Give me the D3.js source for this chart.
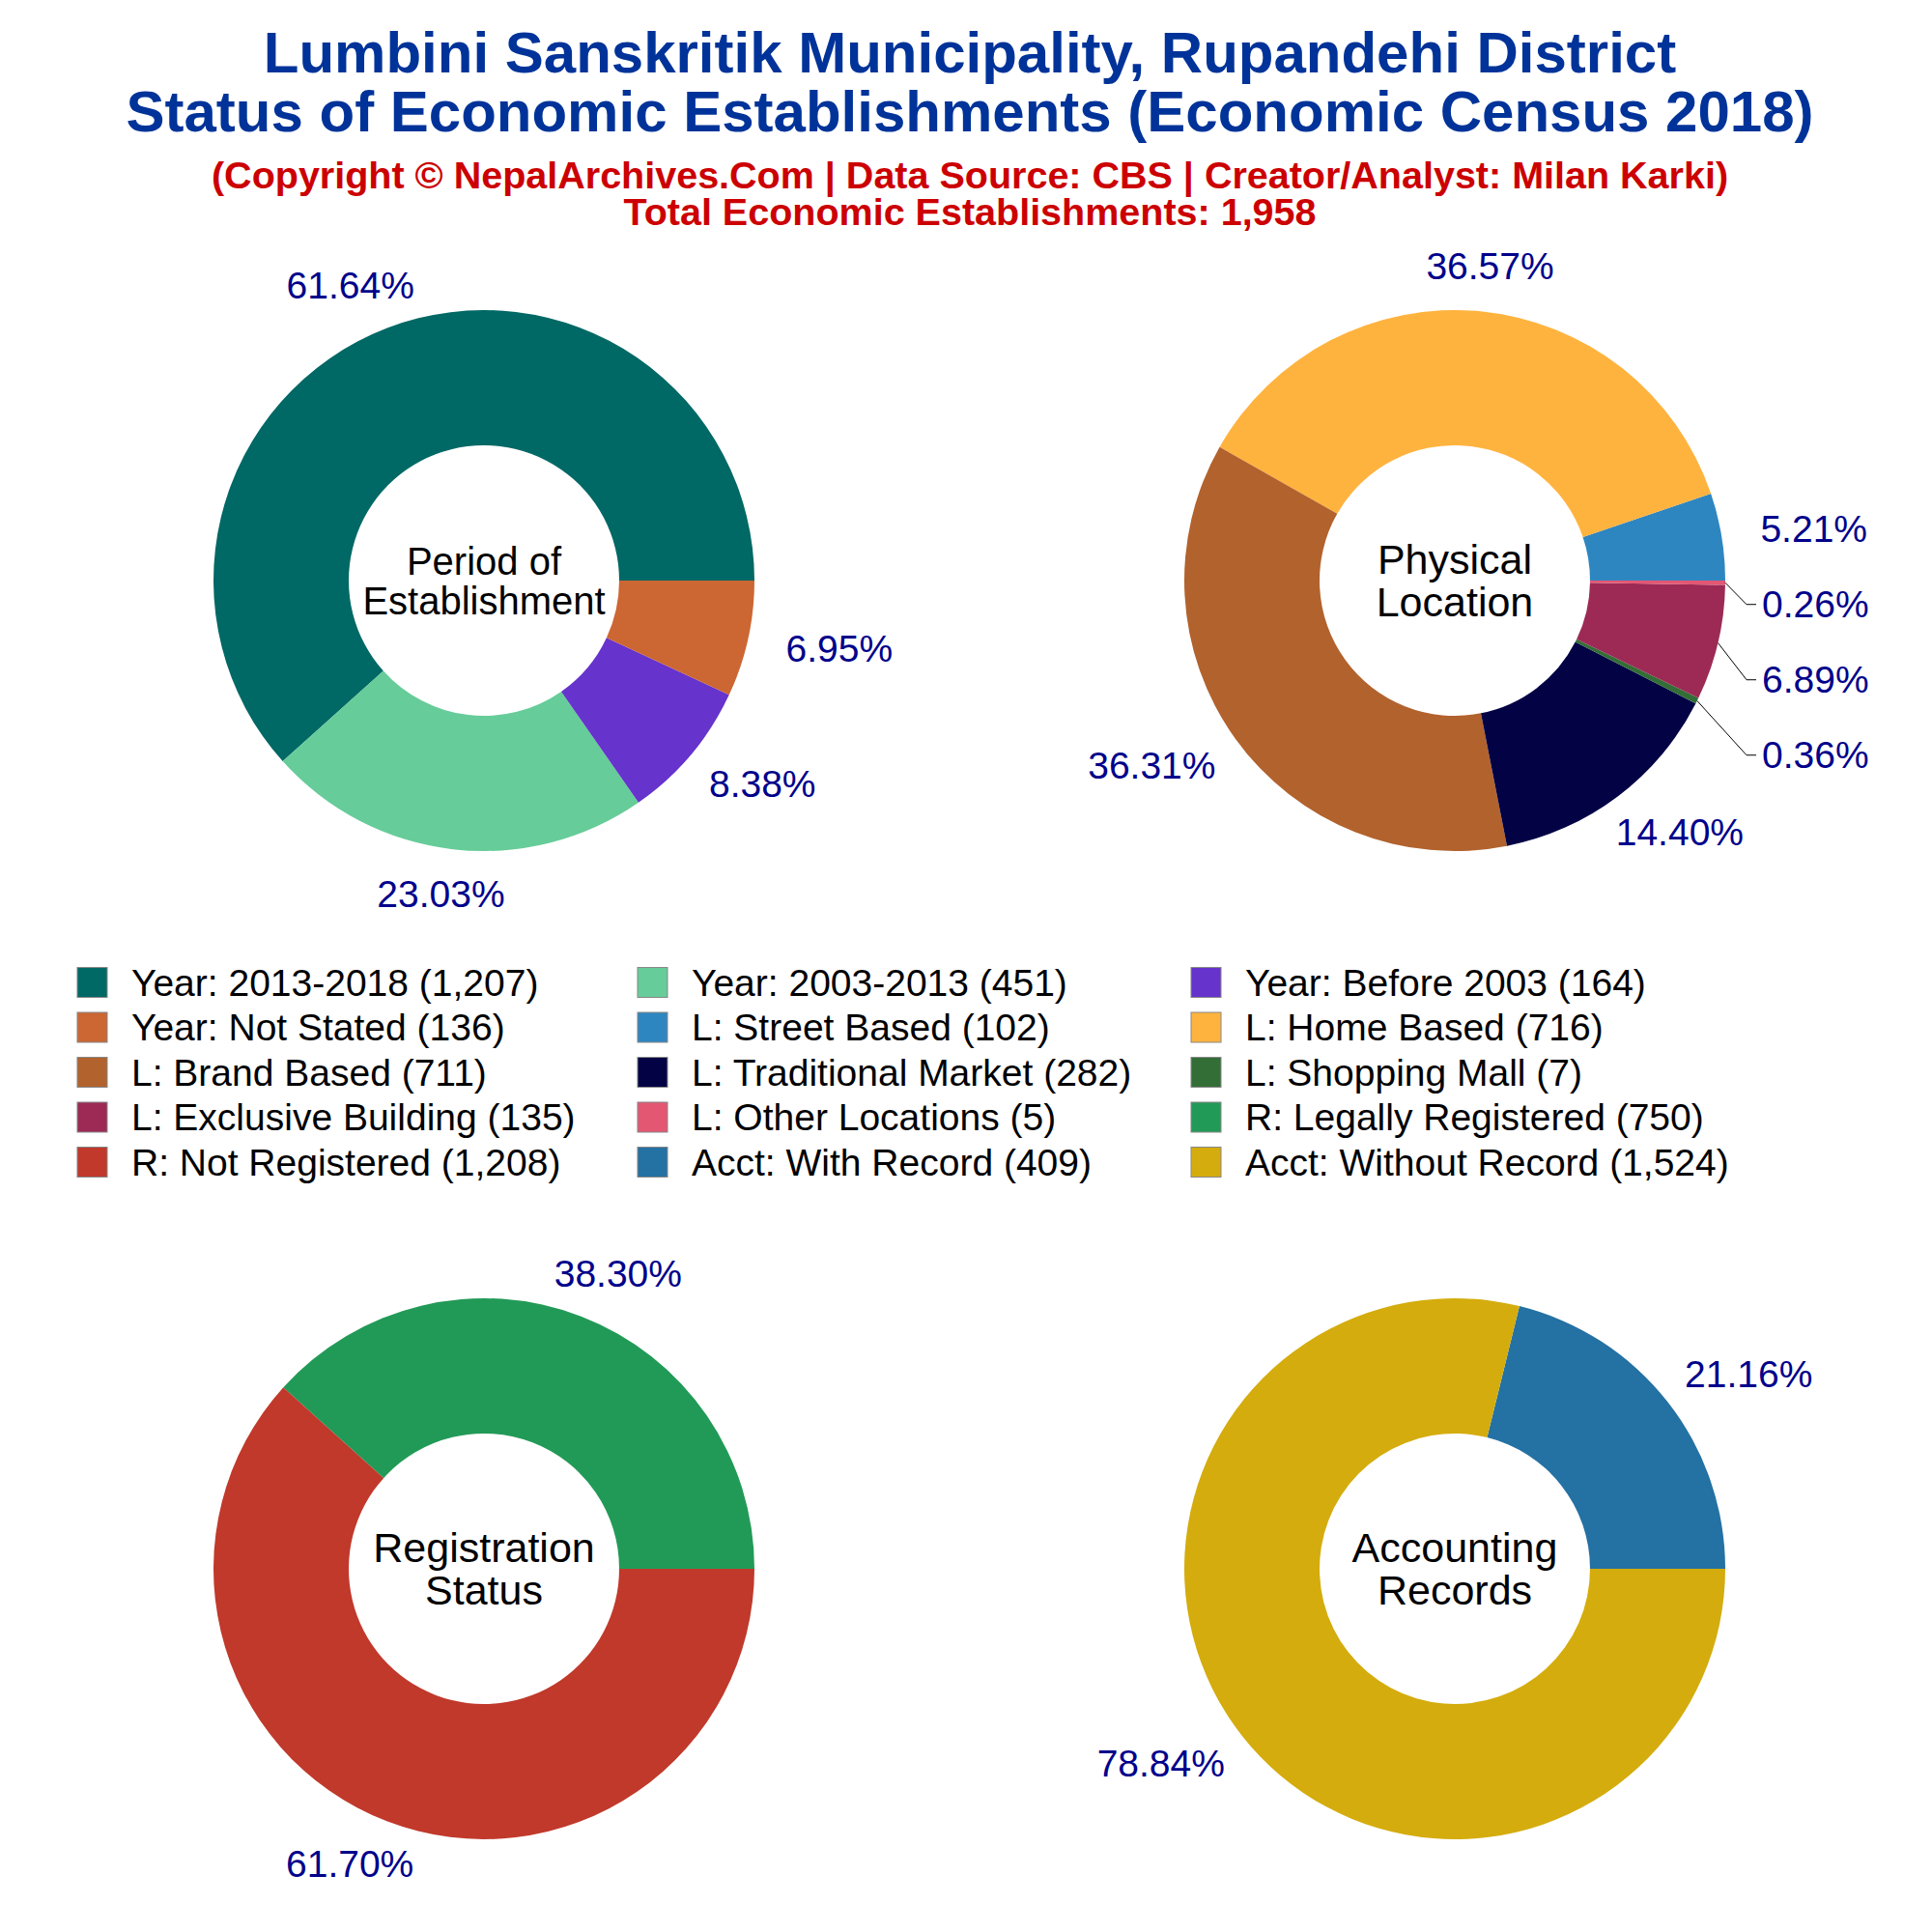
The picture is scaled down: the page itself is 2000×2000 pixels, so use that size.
<!DOCTYPE html>
<html lang="en">
<head>
<meta charset="UTF-8">
<title>Economic Establishments</title>
<style>
  body { margin: 0; background: #fff; }
  svg { font-family: "Liberation Sans", Arial, sans-serif; display: block; }
</style>
<script src="https://d3js.org/d3.v7.min.js"></script>
</head>
<body>
<div id="chart"></div>
<script>
// ---- data ----
const titleLines = ["Lumbini Sanskritik Municipality, Rupandehi District",
                    "Status of Economic Establishments (Economic Census 2018)"];
const subLines = ["(Copyright \u00A9 NepalArchives.Com | Data Source: CBS | Creator/Analyst: Milan Karki)",
                  "Total Economic Establishments: 1,958"];

const periodNames = ["Year: 2013-2018", "Year: 2003-2013", "Year: Before 2003", "Year: Not Stated"];
const periodValues = [1207, 451, 164, 136];
const periodColors = ["#006865", "#66CC99", "#6633CC", "#CC6633"];

const locationNames = ["L: Street Based", "L: Home Based", "L: Brand Based", "L: Traditional Market",
                       "L: Shopping Mall", "L: Exclusive Building", "L: Other Locations"];
const locationValues = [102, 716, 711, 282, 7, 135, 5];
const locationColors = ["#2E86C1", "#FFB33F", "#B2622D", "#020245", "#336E36", "#9C2A55", "#E35773"];

const regNames = ["R: Legally Registered", "R: Not Registered"];
const regValues = [750, 1208];
const regColors = ["#229A57", "#C0392B"];

const acctNames = ["Acct: With Record", "Acct: Without Record"];
const acctValues = [409, 1524];
const acctColors = ["#2471A3", "#D4AC0D"];

const centerLabels = [["Period of", "Establishment"], ["Physical", "Location"],
                      ["Registration", "Status"], ["Accounting", "Records"]];

// ---- layout ----
const width = 2000, height = 2000;
const outerR = 280, innerR = 140, labelR = 327;

const svg = d3.select("#chart").append("svg")
    .attr("width", width)
    .attr("height", height);
svg.append("rect").attr("width", width).attr("height", height).attr("fill", "#fff");

// titles
svg.selectAll(".title")
    .data(titleLines)
    .enter().append("text")
    .attr("x", 1004)
    .attr("y", (d, i) => 75 + i * 61)
    .attr("text-anchor", "middle")
    .attr("font-size", 60)
    .attr("font-weight", "bold")
    .attr("fill", "#003399")
    .text(d => d);

svg.selectAll(".sub")
    .data(subLines)
    .enter().append("text")
    .attr("x", 1004)
    .attr("y", (d, i) => 195 + i * 38)
    .attr("text-anchor", "middle")
    .attr("font-size", 39.5)
    .attr("font-weight", "bold")
    .attr("fill", "#CC0000")
    .text(d => d);

function drawDonut(names, values, colors, center, cx, cy, centerSize) {
    const g = svg.append("g");
    const total = d3.sum(values);
    const pie = d3.pie().sort(null)
        .startAngle(Math.PI / 2)
        .endAngle(Math.PI / 2 - 2 * Math.PI);
    const arc = d3.arc().innerRadius(innerR).outerRadius(outerR);
    const arcs = pie(values);

    g.selectAll("path")
        .data(arcs)
        .enter().append("path")
        .attr("transform", `translate(${cx},${cy})`)
        .attr("d", arc)
        .attr("fill", (d, i) => colors[i]);

    // centre text
    g.selectAll(".ctext")
        .data(center)
        .enter().append("text")
        .attr("x", cx)
        .attr("y", (d, i) => cy + (i - 0.5) * (centerSize + 1))
        .attr("text-anchor", "middle")
        .attr("dominant-baseline", "central")
        .attr("font-size", centerSize)
        .attr("fill", "#000")
        .text(d => d);

    // percentage labels
    const labs = arcs.map(d => {
        const a = (d.startAngle + d.endAngle) / 2;
        return { a: a, nx: Math.sin(a), ny: -Math.cos(a),
                 txt: (d.value / total * 100).toFixed(2) + "%" };
    });
    const texts = g.selectAll(".pct")
        .data(labs)
        .enter().append("text")
        .attr("font-size", 39)
        .attr("fill", "#00008B")
        .attr("text-anchor", "middle")
        .attr("dominant-baseline", "central")
        .text(d => d.txt);
    texts.each(function(d) {
        d.w = this.getComputedTextLength();
        d.x = cx + d.nx * labelR + d.nx * d.w * 0.45;
        d.y = cy + d.ny * labelR;
        d.moved = false;
    });
    // simple repel: push overlapping labels downward, then park them beside the ring
    [true, false].forEach(right => {
        const s = right ? 1 : -1;
        const side = labs.filter(d => (d.nx >= 0) === right).sort((a, b) => a.y - b.y);
        for (let i = 1; i < side.length; i++) {
            const p = side[i - 1], d = side[i];
            const overlapX = Math.abs(d.x - p.x) < (d.w + p.w) / 2;
            if (overlapX && d.y < p.y + 78) {
                d.y = p.y + 78;
                d.moved = true;
                d.x = cx + s * (labelR - 9) + s * d.w / 2;
            }
        }
    });

    texts.filter(d => d.moved)
        .attr("text-anchor", d => d.nx >= 0 ? "start" : "end")
        .each(function(d) { d.x = cx + (d.nx >= 0 ? 1 : -1) * (labelR - 9); });
    texts.attr("x", d => d.x).attr("y", d => d.y);

    g.selectAll(".leader")
        .data(labs.filter(d => d.moved))
        .enter().append("polyline")
        .attr("fill", "none")
        .attr("stroke", "#000")
        .attr("stroke-width", 1)
        .attr("points", d => {
            const s = d.nx >= 0 ? 1 : -1;
            return [[cx + d.nx * outerR, cy + d.ny * outerR],
                    [d.x - s * 16, d.y], [d.x - s * 6, d.y]].map(p => p.join(",")).join(" ");
        });
}

drawDonut(periodNames, periodValues, periodColors, centerLabels[0], 501, 601, 40);
drawDonut(locationNames, locationValues, locationColors, centerLabels[1], 1506, 601, 43);
drawDonut(regNames, regValues, regColors, centerLabels[2], 501, 1624, 43);
drawDonut(acctNames, acctValues, acctColors, centerLabels[3], 1506, 1624, 43);

// legend
const legendNames = [].concat(periodNames, locationNames, regNames, acctNames);
const legendValues = [].concat(periodValues, locationValues, regValues, acctValues);
const legendColors = [].concat(periodColors, locationColors, regColors, acctColors);
const colX = [80, 660, 1233];

const leg = svg.append("g").selectAll("g")
    .data(legendNames)
    .enter().append("g")
    .attr("transform", (d, i) => `translate(${colX[i % 3]},${1017 + Math.floor(i / 3) * 46.5})`);
leg.append("rect")
    .attr("x", 0).attr("y", -15.5)
    .attr("width", 31).attr("height", 31)
    .attr("fill", (d, i) => legendColors[i])
    .attr("stroke", "#888")
    .attr("stroke-width", 1);
leg.append("text")
    .attr("x", 56)
    .attr("y", 0)
    .attr("dominant-baseline", "central")
    .attr("font-size", 39)
    .attr("fill", "#000")
    .text((d, i) => `${d} (${d3.format(",")(legendValues[i])})`);
</script>
</body>
</html>
